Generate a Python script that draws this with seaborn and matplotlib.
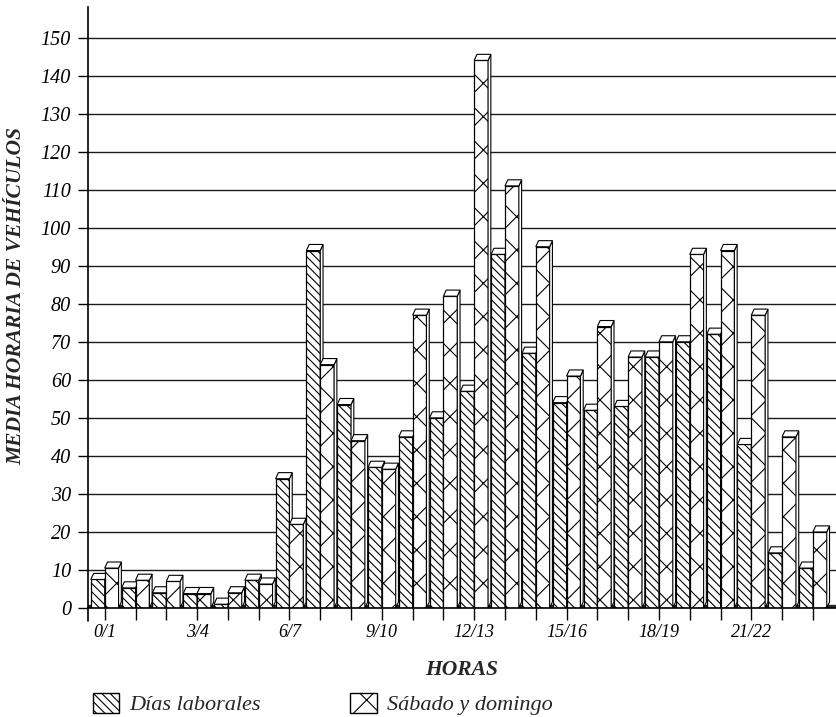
import matplotlib
matplotlib.use("Agg")
import matplotlib.pyplot as plt
import pandas as pd
import seaborn as sns
from matplotlib.patches import Patch, Polygon

# Hourly averages of vehicles, weekdays vs. weekend
horas = ["0/1", "1/2", "2/3", "3/4", "4/5", "5/6", "6/7", "7/8",
         "8/9", "9/10", "10/11", "11/12", "12/13", "13/14", "14/15", "15/16",
         "16/17", "17/18", "18/19", "19/20", "20/21", "21/22", "22/23", "23/24"]
dias_laborales = [7.5, 5.3, 4.0, 3.8, 1.0, 7.3, 34, 94, 53.5, 37, 45, 50,
                  57, 93, 67, 54, 52, 53, 66, 70, 72, 43, 14.5, 10.5]
sabado_domingo = [10.5, 7.3, 7.0, 3.8, 4.0, 6.3, 22, 64, 44, 36.5, 77, 82,
                  144, 111, 95, 61, 74, 66, 70, 93, 94, 77, 45, 20]
series = ["Días laborales", "Sábado y domingo"]
hatches = ["\\\\\\\\", "x"]
yticks = list(range(0, 151, 10))

df = pd.DataFrame({
    "hora": horas * 2,
    "serie": [series[0]] * len(horas) + [series[1]] * len(horas),
    "media": dias_laborales + sabado_domingo,
})

sns.set_theme(style="white")
plt.rcParams["font.family"] = ["Liberation Serif", "DejaVu Serif"]
plt.rcParams["hatch.linewidth"] = 0.8
plt.rcParams["hatch.color"] = "black"

fig = plt.figure(figsize=(8.36, 7.17), dpi=100)
ax = fig.add_axes([0.105, 0.152, 0.895, 0.838])

ax.set_axisbelow(True)
ax.yaxis.grid(True, color="#1a1a1a", linewidth=1.0)

sns.barplot(data=df, x="hora", y="media", hue="serie", order=horas,
            hue_order=series, palette=["white", "white"], saturation=1,
            edgecolor="black", linewidth=0.9, width=0.9, gap=0,
            legend=False, ax=ax)

# hatch each series and add a simple 3D cap and side face to every bar
dx, dy = 0.09, 1.6
for k, cont in enumerate(ax.containers):
    for i, bar in enumerate(cont.patches):
        z = 3 + (2 * i + k) * 0.01
        bar.set_hatch(hatches[k])
        bar.set_zorder(z)
        x0, w, h = bar.get_x(), bar.get_width(), bar.get_height()
        side = Polygon([(x0 + w, 0), (x0 + w, h), (x0 + w + dx, h + dy),
                        (x0 + w + dx, dy)], closed=True, facecolor="white",
                       edgecolor="black", linewidth=0.8, zorder=z + 0.001)
        cap = Polygon([(x0, h), (x0 + dx, h + dy), (x0 + w + dx, h + dy),
                       (x0 + w, h)], closed=True, facecolor="white",
                      edgecolor="black", linewidth=0.8, zorder=z + 0.002)
        ax.add_patch(side)
        ax.add_patch(cap)

# dark floor strip along the baseline
ax.axhspan(0, 0.9, color="#2a2a2a", zorder=2)

ax.set_ylim(0, 158)
ax.set_xlim(-0.55, 23.75)
ax.set_yticks(yticks)
ax.set_yticklabels([str(v) for v in yticks])
ax.set_xticks(range(len(horas)))
ax.set_xticklabels([h if i % 3 == 0 else "" for i, h in enumerate(horas)])

for s in ["top", "right"]:
    ax.spines[s].set_visible(False)
for s in ["left", "bottom"]:
    ax.spines[s].set_color("black")
    ax.spines[s].set_linewidth(1.2)
    ax.spines[s].set_zorder(5)
# the vertical axis line runs a little below the baseline
ax.plot([0, 0], [0, -0.021], transform=ax.transAxes, clip_on=False,
        color="black", lw=1.2, zorder=5)

ax.tick_params(axis="y", direction="out", length=7, width=1, colors="black",
               labelsize=14.5, pad=5, left=True)
ax.tick_params(axis="x", direction="out", length=8.5, width=1,
               colors="black", labelsize=13, pad=3, bottom=True)
for lbl in ax.get_xticklabels() + ax.get_yticklabels():
    lbl.set_fontstyle("italic")

ax.set_xlabel("")
ax.set_ylabel("MEDIA HORARIA DE VEHÍCULOS", fontsize=15.5, fontweight="bold",
              fontstyle="italic")
ax.yaxis.set_label_coords(-0.082, 0.52)

fig.text(0.5525, 0.066, "HORAS", ha="center", va="center", fontsize=15.5,
         fontweight="bold", fontstyle="italic")

handles = [Patch(facecolor="white", edgecolor="black", hatch=hatches[k],
                 label=series[k]) for k in range(2)]
fig.legend(handles=handles, loc="center left", bbox_to_anchor=(0.111, 0.018),
           ncol=2, frameon=False, prop={"style": "italic", "size": 16},
           handlelength=1.2, handleheight=1.0, handletextpad=0.45,
           columnspacing=4.0, borderpad=0, borderaxespad=0)

fig.savefig("out.png", dpi=100)
